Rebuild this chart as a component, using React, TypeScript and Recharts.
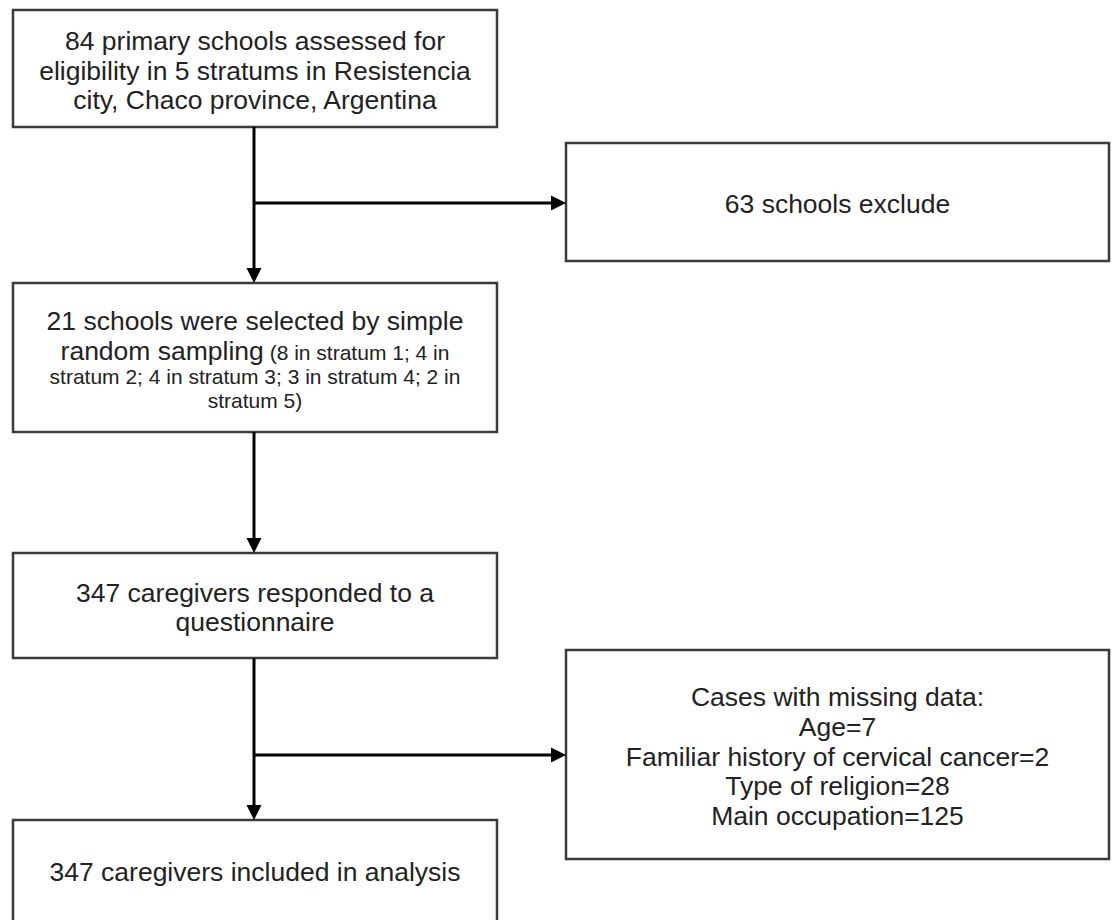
import { ScatterChart, Scatter, XAxis, YAxis, ReferenceArea, ReferenceLine } from "recharts";

// flowchart nodes, in picture units (x: 0..1113, y: 0..920 top-down)
// "|" splits a line into normal text and the smaller note text
const boxLines = [
  ["84 primary schools assessed for", "eligibility in 5 stratums in Resistencia", "city, Chaco province, Argentina"],
  ["63 schools exclude"],
  [
    "21 schools were selected by simple",
    "random sampling| (8 in stratum 1; 4 in",
    "|stratum 2; 4 in stratum 3; 3 in stratum 4; 2 in",
    "|stratum 5)",
  ],
  ["347 caregivers responded to a", "questionnaire"],
  [
    "Cases with missing data:",
    "Age=7",
    "Familiar history of cervical cancer=2",
    "Type of religion=28",
    "Main occupation=125",
  ],
  ["347 caregivers included in analysis"],
];
const boxLeft = [13, 566, 13, 13, 566, 13];
const boxRight = [497, 1109, 497, 497, 1109, 497];
const boxTop = [10, 143, 283, 553, 650, 820];
const boxBottom = [127, 261, 432, 658, 859, 925];

const arrowFrom = [
  [254, 127],
  [254, 203],
  [254, 432],
  [254, 658],
  [254, 755],
];
const arrowTo = [
  [254, 283],
  [566, 203],
  [254, 553],
  [254, 820],
  [566, 755],
];

const BIG = 26.5;
const SMALL = 21;
const LH = 1.12;
const FONT = "'Liberation Sans', Arial, sans-serif";

const nodes = boxLines.map((lines, i) => ({
  x: (boxLeft[i] + boxRight[i]) / 2,
  y: (boxTop[i] + Math.min(boxBottom[i], 920)) / 2,
  lines,
}));

function NodeText(props: any) {
  const { cx, cy, payload } = props;
  const lines: string[] = payload.lines;
  const heights = lines.map((l) => (l.startsWith("|") ? SMALL : BIG) * LH);
  const total = heights.reduce((a, b) => a + b, 0);
  let top = cy - total / 2;
  return (
    <text textAnchor="middle" fontFamily={FONT} fill="#222" fontSize={BIG}>
      {lines.map((l, i) => {
        const [big, small] = l.split("|");
        const size = l.startsWith("|") ? SMALL : BIG;
        const base = top + heights[i] / 2 + size * 0.42;
        top += heights[i];
        return big ? (
          <tspan key={i} x={cx} y={base}>
            {big}
            {small !== undefined && <tspan fontSize={SMALL}>{small}</tspan>}
          </tspan>
        ) : (
          <tspan key={i} x={cx} y={base} fontSize={SMALL}>
            {small}
          </tspan>
        );
      })}
    </text>
  );
}

function Arrow(props: any) {
  const { x1, y1, x2, y2 } = props;
  const len = Math.hypot(x2 - x1, y2 - y1) || 1;
  const ux = (x2 - x1) / len;
  const uy = (y2 - y1) / len;
  const hl = 15;
  const hw = 7.5;
  const bx = x2 - ux * hl;
  const by = y2 - uy * hl;
  return (
    <g>
      <line x1={x1} y1={y1} x2={bx} y2={by} stroke="#000" strokeWidth={3} />
      <polygon
        points={`${x2},${y2} ${bx - uy * hw},${by + ux * hw} ${bx + uy * hw},${by - ux * hw}`}
        fill="#000"
      />
    </g>
  );
}

export default function App() {
  return (
    <div style={{ position: "absolute", left: 0, top: 0, width: 1113, height: 920, background: "#fff" }}>
      <ScatterChart width={1113} height={920} margin={{ top: 0, right: 0, bottom: 0, left: 0 }}>
        <XAxis type="number" dataKey="x" domain={[0, 1113]} hide />
        <YAxis type="number" dataKey="y" domain={[0, 920]} reversed hide />
        {boxLines.map((_, i) => (
          <ReferenceArea
            key={"b" + i}
            x1={boxLeft[i]}
            x2={boxRight[i]}
            y1={boxTop[i]}
            y2={boxBottom[i]}
            ifOverflow="visible"
            fill="#fff"
            fillOpacity={1}
            stroke="#3a3a3a"
            strokeWidth={2.5}
          />
        ))}
        {arrowFrom.map((p, i) => (
          <ReferenceLine
            key={"a" + i}
            segment={[
              { x: p[0], y: p[1] },
              { x: arrowTo[i][0], y: arrowTo[i][1] },
            ]}
            ifOverflow="visible"
            shape={Arrow}
          />
        ))}
        <Scatter data={nodes} shape={NodeText} isAnimationActive={false} />
      </ScatterChart>
    </div>
  );
}
